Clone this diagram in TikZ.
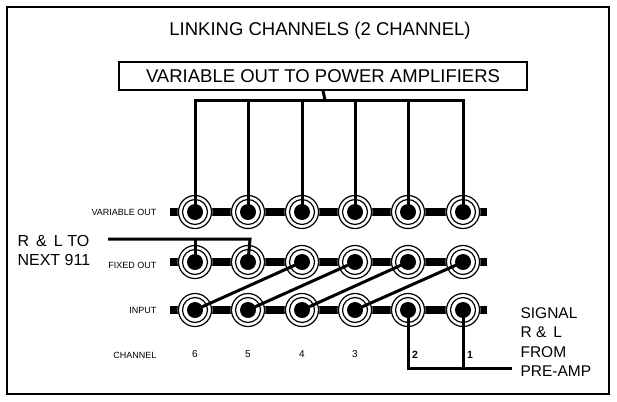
\documentclass[tikz,border=0pt]{standalone}
\usepackage{fontspec}
\setmainfont{Liberation Sans}
\begin{document}
\begin{tikzpicture}[x=1pt,y=-1pt,
  wire/.style={line width=3pt},
  lbl/.style={font=\fontsize{9}{10}\selectfont,anchor=east},
  big/.style={font=\fontsize{18.5}{20}\selectfont}]
\useasboundingbox (0,0) rectangle (617,401);
\draw[line width=1.2pt] (7,7) rectangle (609,394);
\node[big] (title) at (320,31) {LINKING CHANNELS (2 CHANNEL)};
\node[big,draw,line width=1.6pt,minimum width=408,minimum height=28] (box) at (323,76) {VARIABLE OUT TO POWER AMPLIFIERS};
\foreach \r/\y in {v/212,f/262,i/310}{
  \fill (170,\y-4) rectangle (487,\y+4);
  \foreach \c/\x in {6/195,5/248,4/302,3/355,2/408,1/463}{
    \fill[white] (\x,\y) circle (17.5);
    \draw[line width=1.2pt] (\x,\y) circle (16.5);
    \draw[line width=1.2pt] (\x,\y) circle (12.5);
    \fill (\x,\y) circle (8);
    \coordinate (\r\c) at (\x,\y);
  }
}
\node[lbl] at (160,212) {VARIABLE OUT};
\node[lbl] at (160,265) {FIXED OUT};
\node[lbl] at (160,310) {INPUT};
\node[lbl] at (160,355) {CHANNEL};
\foreach \c/\x in {6/195,5/248,4/302,3/355}{\node[font=\fontsize{10}{11}\selectfont] at (\x,354) {\c};}
\node[font=\bfseries\fontsize{10.5}{11}\selectfont] at (415,355) {2};
\node[font=\bfseries\fontsize{10.5}{11}\selectfont] at (470,355) {1};
% top bus
\coordinate (bus) at (325,100);
\draw[wire] (box.south) -- (bus);
\draw[wire] (v6) -- (195,100) -- (463,100) -- (v1);
\foreach \c/\x in {5/248,4/302,3/355,2/408}{\draw[wire] (v\c) -- (\x,100);}
% R&L to next
\node[font=\fontsize{16}{19}\selectfont,align=left,anchor=west] (rl) at (14,250) {R \,\&\, L TO\\NEXT 911};
\draw[wire] (108,239) -- (250,239) -- (f5);
\draw[wire] (195,239) -- (f6);
% diagonals
\draw[wire] (i6) -- (f4);
\draw[wire] (i5) -- (f3);
\draw[wire] (i4) -- (f2);
\draw[wire] (i3) -- (f1);
% signal
\coordinate (sig) at (512,368);
\draw[wire] (i2) -- (408,368) -- (sig);
\draw[wire] (i1) -- (463,368);
\node[font=\fontsize{15.5}{19.5}\selectfont,align=left,anchor=west] (sg) at (517,342) {SIGNAL\\R \& \,L\\FROM\\PRE-AMP};
\end{tikzpicture}
\end{document}
